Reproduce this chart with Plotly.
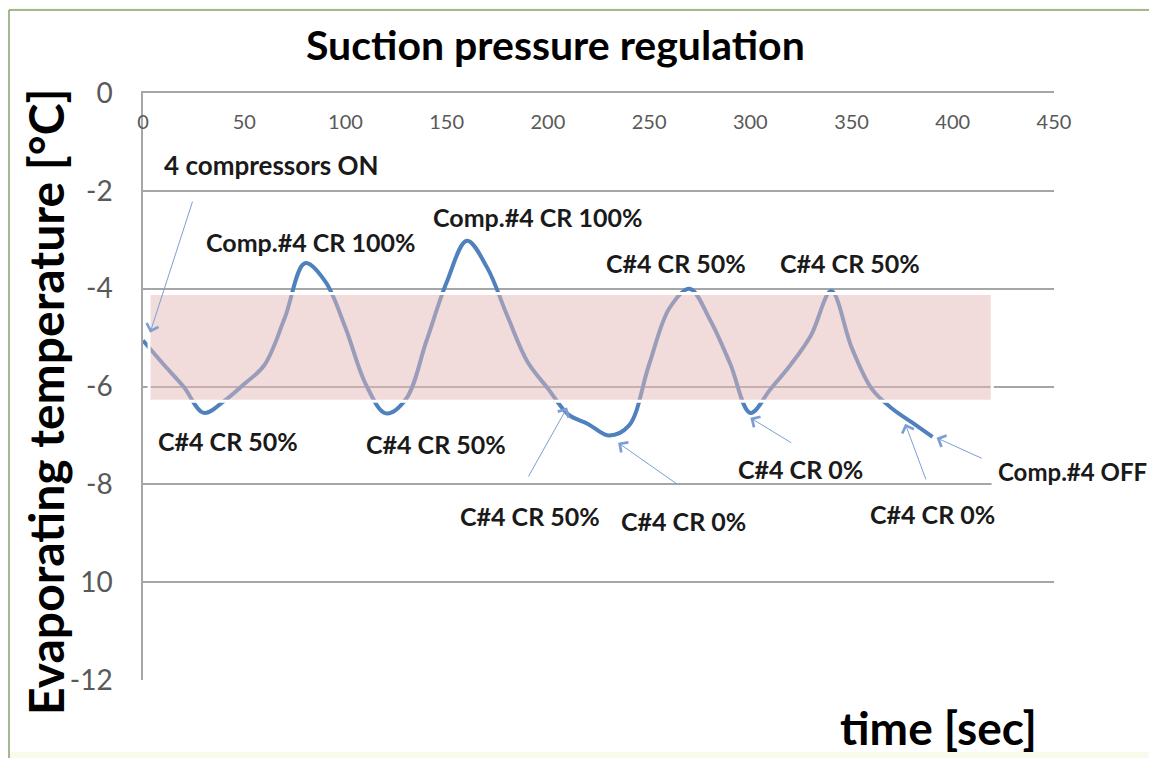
"""
Suction pressure regulation - evaporating temperature vs. time
Compressor #4 capacity regulation (CR) events annotated on the curve
"""

import plotly.graph_objects as go

# ---- data ----
time_s = [0, 10, 20, 30, 40, 50, 60, 70, 80, 90,
          100, 110, 120, 130, 140, 150, 160, 170, 180, 190,
          200, 210, 220, 230, 240, 250, 260, 270, 280, 290,
          300, 310, 320, 330, 340, 350, 360, 370, 380, 390]
evap_temp = [-5.06, -5.54, -6.0, -6.54, -6.3, -5.95, -5.56, -4.6, -3.48, -3.85,
             -4.8, -5.95, -6.55, -6.25, -5.07, -3.87, -3.02, -3.57, -4.56, -5.5,
             -6.04, -6.57, -6.77, -7.0, -6.8, -5.55, -4.4, -4.0, -4.63, -5.53,
             -6.54, -6.05, -5.55, -4.95, -4.05, -5.2, -6.05, -6.45, -6.74, -7.03]

x_ticks = [0, 50, 100, 150, 200, 250, 300, 350, 400, 450]
y_ticks = [0, -2, -4, -6, -8, -10, -12]
y_tick_text = ['0', '-2', '-4', '-6', '-8', '10', '-12']  # "10" as printed on the original

# target band of evaporating temperature
band_t = [3, 419.5]
band_temp = [-6.3, -4.1]

# event labels (text positions in data units)
label_texts = ['4 compressors ON', 'Comp.#4 CR 100%', 'C#4 CR 50%', 'C#4 CR 50%',
               'Comp.#4 CR 100%', 'C#4 CR 50%', 'C#4 CR 0%', 'C#4 CR 50%',
               'C#4 CR 50%', 'C#4 CR 0%', 'C#4 CR 0%', 'Comp.#4 OFF']
label_x = [63.7, 82.5, 42, 144.8, 195, 191, 266.8, 263.3, 349.3, 324.6, 390, 459]
label_y = [-1.48, -3.05, -7.11, -7.17, -2.54, -8.65, -8.75, -3.48, -3.48, -7.68, -8.6, -7.73]

# arrows: tail -> head
arrow_tail_x = [24.7, 190, 265, 321, 387, 415]
arrow_tail_y = [-2.19, -7.87, -8.03, -7.17, -7.93, -7.48]
arrow_head_x = [3.5, 209.5, 234.7, 300, 376.5, 392]
arrow_head_y = [-4.9, -6.43, -7.15, -6.64, -6.76, -7.05]

X_MAX = 450

# ---- page geometry (page body adds an 8px margin) ----
W, H = 1149, 750
L, T, R, B = 135, 85, 103, 78
PW, PH = W - L - R, H - T - B
OFF = 8


def paper_x(px):
    # px measured on the 1157x758 reference
    return (px - OFF - L) / PW


def paper_y(py):
    return 1 - (py - OFF - T) / PH


FONT = 'Lato'
GRID = '#a6a6a6'
FRAME = '#86a06e'

fig = go.Figure()

fig.add_trace(go.Scatter(
    x=time_s,
    y=evap_temp,
    mode='lines',
    line=dict(color='#4f81bd', width=4, shape='spline', smoothing=1.0),
    showlegend=False,
    hoverinfo='skip'
))

shapes = [
    # page background inside the green frame
    dict(type='rect', xref='paper', yref='paper', layer='below',
         x0=paper_x(9), x1=paper_x(1157), y0=paper_y(752), y1=paper_y(10),
         fillcolor='white', line=dict(width=0)),
    dict(type='line', xref='paper', yref='paper',
         x0=paper_x(9), x1=paper_x(1157), y0=paper_y(10), y1=paper_y(10),
         line=dict(color=FRAME, width=1.5)),
    dict(type='line', xref='paper', yref='paper',
         x0=paper_x(9), x1=paper_x(9), y0=paper_y(758), y1=paper_y(10),
         line=dict(color=FRAME, width=1.5)),
    # pink regulation band drawn over the curve
    dict(type='rect', xref='x', yref='y', layer='above',
         x0=band_t[0], x1=band_t[1], y0=band_temp[0], y1=band_temp[1],
         fillcolor='rgba(229,185,183,0.5)', line=dict(color='white', width=3)),
]

annotations = []

# arrows first so the labels sit on top
for tx, ty, hx, hy in zip(arrow_tail_x, arrow_tail_y, arrow_head_x, arrow_head_y):
    annotations.append(dict(
        x=hx, y=hy, ax=tx, ay=ty, xref='x', yref='y', axref='x', ayref='y',
        text='', showarrow=True, arrowhead=4, arrowsize=2.4, arrowwidth=1,
        arrowcolor='#7c9fd3'
    ))

for txt, lx, ly in zip(label_texts, label_x, label_y):
    off_axis = lx > X_MAX  # labels past the axis end need paper x
    size = 25
    if txt.startswith('4 '):
        size = 26
    elif txt == 'Comp.#4 OFF':
        size = 24
    annotations.append(dict(
        x=lx / X_MAX if off_axis else lx, y=ly,
        xref='paper' if off_axis else 'x', yref='y',
        xanchor='center', yanchor='middle',
        text=f'<b>{txt}</b>', showarrow=False,
        font=dict(family=FONT, size=size, color='#1a1a1a'),
        bgcolor='white' if txt == 'Comp.#4 OFF' else None,
        borderpad=6 if txt == 'Comp.#4 OFF' else 1
    ))

# titles
annotations.append(dict(
    x=paper_x(555), y=paper_y(45), xref='paper', yref='paper',
    xanchor='center', yanchor='middle',
    text='<b>Suction pressure regulation</b>', showarrow=False,
    font=dict(family=FONT, size=41, color='black')
))
annotations.append(dict(
    x=paper_x(45), y=paper_y(402), xref='paper', yref='paper',
    xanchor='center', yanchor='middle',
    text='<b>Evaporating temperature [°C]</b>', showarrow=False, textangle=-90,
    font=dict(family=FONT, size=48, color='black')
))
annotations.append(dict(
    x=paper_x(938), y=paper_y(727), xref='paper', yref='paper',
    xanchor='center', yanchor='middle',
    text='<b>time [sec]</b>', showarrow=False,
    font=dict(family=FONT, size=46, color='black')
))

fig.update_layout(
    width=W, height=H, autosize=False,
    margin=dict(l=L, r=R, t=T, b=B, pad=0),
    paper_bgcolor='#f6fbec',
    plot_bgcolor='white',
    shapes=shapes,
    annotations=annotations,
    xaxis=dict(
        range=[0, X_MAX], side='top', tickvals=x_ticks,
        ticklabelposition='inside', ticklabeloverflow='allow', ticklabelstandoff=23,
        showline=True, linecolor=GRID, linewidth=1.5,
        showgrid=False, zeroline=False, ticks='',
        tickfont=dict(family=FONT, size=20, color='#595959'),
        automargin=False, fixedrange=True
    ),
    yaxis=dict(
        range=[-12, 0], tickvals=y_ticks, ticktext=y_tick_text,
        showline=True, linecolor=GRID, linewidth=1.5,
        showgrid=True, gridcolor=GRID, gridwidth=1.5, zeroline=False, ticks='',
        ticklabelstandoff=23,
        tickfont=dict(family=FONT, size=28, color='#595959'),
        automargin=False, fixedrange=True
    ),
)

fig.write_html("out.html")
